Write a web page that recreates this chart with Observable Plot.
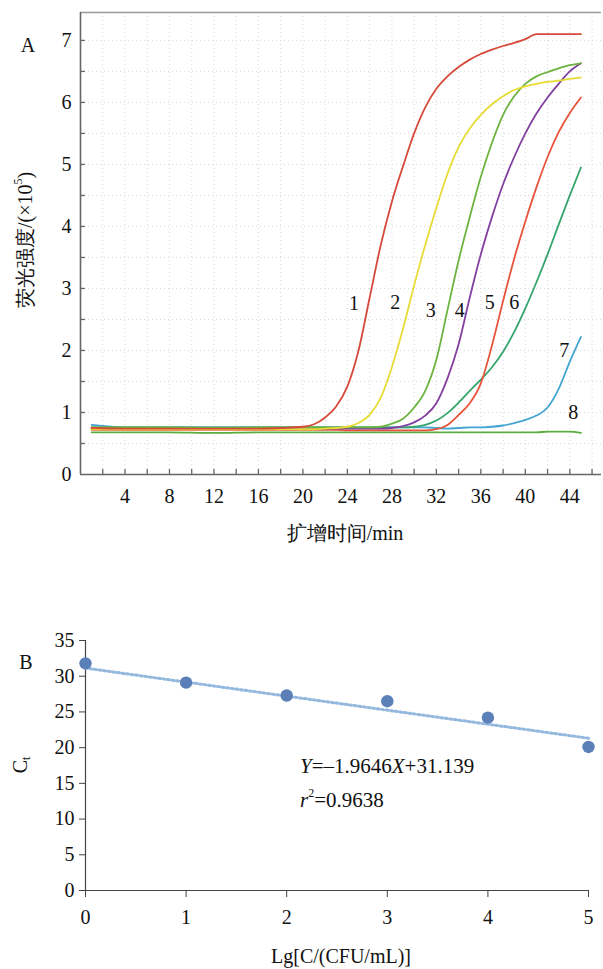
<!DOCTYPE html>
<html><head><meta charset="utf-8">
<script src="https://cdn.jsdelivr.net/npm/d3@7"></script>
<script src="https://cdn.jsdelivr.net/npm/@observablehq/plot@0.6"></script>
<style>
body{margin:0;background:#fff;}
#wrap{position:relative;width:603px;height:969px;font-family:"Liberation Serif","Times New Roman",serif;}
#a{position:absolute;left:0;top:0;}
#b{position:absolute;left:0;top:600px;}
svg text{font-family:"Liberation Serif","Times New Roman",serif;}
</style></head><body><div id="wrap"><div id="a"></div><div id="b"></div></div>
<script>
// ---- Panel A data ----
const cycles = [1,4,8,12,16,18,20,21,22,23,24,25,26,27,28,29,30,31,32,33,34,35,36,37,38,39,40,41,42,43,44,45];
const s1 = [0.75,0.74,0.74,0.74,0.74,0.75,0.77,0.81,0.92,1.1,1.42,2.0,2.85,3.7,4.4,4.97,5.5,5.92,6.22,6.42,6.57,6.69,6.78,6.85,6.91,6.96,7.02,7.1,7.1,7.1,7.1,7.1];
const s2 = [0.73,0.73,0.73,0.73,0.73,0.73,0.73,0.73,0.74,0.75,0.77,0.83,0.96,1.24,1.73,2.35,3.05,3.7,4.3,4.85,5.28,5.58,5.8,5.97,6.1,6.2,6.26,6.3,6.33,6.35,6.38,6.4];
const s3 = [0.76,0.76,0.76,0.75,0.76,0.76,0.76,0.76,0.76,0.76,0.76,0.76,0.76,0.77,0.82,0.9,1.08,1.35,1.85,2.65,3.45,4.15,4.8,5.35,5.8,6.1,6.3,6.42,6.49,6.55,6.6,6.63];
const s4 = [0.74,0.74,0.74,0.74,0.74,0.74,0.74,0.74,0.74,0.74,0.74,0.74,0.74,0.74,0.75,0.78,0.84,0.95,1.15,1.55,2.1,2.85,3.55,4.15,4.68,5.12,5.5,5.82,6.08,6.3,6.5,6.63];
const s5 = [0.72,0.72,0.72,0.72,0.72,0.72,0.72,0.72,0.72,0.72,0.71,0.71,0.71,0.71,0.71,0.71,0.71,0.71,0.73,0.8,0.96,1.15,1.47,2.08,2.8,3.48,4.08,4.63,5.12,5.52,5.83,6.08];
const s6 = [0.76,0.76,0.76,0.76,0.76,0.76,0.76,0.76,0.76,0.76,0.76,0.76,0.76,0.76,0.76,0.76,0.77,0.8,0.87,0.99,1.16,1.35,1.53,1.73,1.98,2.3,2.68,3.1,3.55,4.03,4.5,4.95];
const s7 = [0.8,0.76,0.76,0.76,0.76,0.76,0.76,0.76,0.76,0.76,0.76,0.76,0.76,0.76,0.76,0.76,0.76,0.76,0.75,0.74,0.75,0.76,0.76,0.77,0.79,0.83,0.88,0.95,1.08,1.38,1.82,2.22];
const s8 = [0.68,0.68,0.68,0.67,0.68,0.68,0.68,0.68,0.68,0.68,0.68,0.68,0.68,0.68,0.68,0.68,0.68,0.68,0.68,0.68,0.68,0.68,0.68,0.68,0.68,0.68,0.68,0.68,0.69,0.69,0.69,0.67];
const seriesNames = ["1","2","3","4","5","6","7","8"];
const seriesColors = ["#d64a3b","#e6dc35","#6cb43f","#8240a0","#e8533b","#35a56c","#45a5d2","#5aad3c"];
const labelT = [24.6, 28.3, 31.5, 34.1, 36.8, 39.0, 43.5, 44.3];
const labelV = [2.76, 2.77, 2.65, 2.65, 2.77, 2.77, 2.0, 1.0];
const xTickLabelsA = [4,8,12,16,20,24,28,32,36,40,44];
const yTickLabelsA = [0,1,2,3,4,5,6,7];

// ---- Panel B data ----
const lgConc = [0,1,2,3,4,5];
const ctValues = [31.8, 29.1, 27.3, 26.5, 24.2, 20.1];
const slope = -1.9646, intercept = 31.139, r2 = 0.9638;
const yTickLabelsB = [0,5,10,15,20,25,30,35];

const FONT = '"Liberation Serif","Times New Roman",serif';
const all = [s1,s2,s3,s4,s5,s6,s7,s8];
const rows = [];
for (let i = all.length - 1; i >= 0; i--) all[i].forEach((v,j) => rows.push({t: cycles[j], v, s: seriesNames[i]}));
const labels = seriesNames.map((n,i) => ({n, t: labelT[i], v: labelV[i]}));

const A = Plot.plot({
  width: 603, height: 550, marginLeft: 80, marginRight: 2, marginTop: 12, marginBottom: 76,
  style: {fontFamily: FONT, fontSize: "20px", color: "#111", background: "white", overflow: "visible"},
  x: {domain: [0, 46.85]},
  y: {domain: [0, 7.45]},
  color: {domain: seriesNames, range: seriesColors},
  marks: [
    Plot.ruleX(d3.range(2, 47, 2), {stroke: "#d8d8d8", strokeDasharray: "1,3"}),
    Plot.ruleY(d3.range(0.5, 7.5, 0.5), {stroke: "#d8d8d8", strokeDasharray: "1,3"}),
    Plot.ruleY([7.45], {stroke: "#9a9a9a", strokeWidth: 1.5}),
    Plot.ruleX(d3.range(2, 47, 2), {y1: 0, y2: 0.08, stroke: "#666", strokeWidth: 1.3}),
    Plot.ruleY(d3.range(0.5, 7.5, 0.5), {x1: 0, x2: 0.45, stroke: "#666", strokeWidth: 1.3}),
    Plot.ruleX([0], {stroke: "#666", strokeWidth: 1.6}),
    Plot.ruleY([0], {stroke: "#666", strokeWidth: 1.6}),
    Plot.line(rows, {x: "t", y: "v", z: "s", stroke: "s", curve: "monotone-x", strokeWidth: 1.8}),
    Plot.text(labels, {x: "t", y: "v", text: "n", fontSize: 20, fill: "#111", fontFamily: FONT}),
    Plot.axisX({ticks: xTickLabelsA, tickSize: 0, tickPadding: 14, fontSize: 20, fontFamily: FONT, label: null, tickFormat: d => String(d)}),
    Plot.axisY({ticks: yTickLabelsA, tickSize: 0, tickPadding: 9, fontSize: 20, fontFamily: FONT, label: null, tickFormat: d => String(d)})
  ]
});
document.getElementById("a").appendChild(A);
const sa = d3.select(A);
sa.append("text").attr("x", 28).attr("y", 45).attr("text-anchor", "middle").attr("dominant-baseline", "central")
  .attr("font-size", 20).attr("fill", "#111").text("A");
const yl = sa.append("text").attr("transform", "translate(25,240) rotate(-90)").attr("text-anchor", "middle")
  .attr("dominant-baseline", "central").attr("font-size", 20).attr("fill", "#111");
yl.append("tspan").text("荧光强度/(×10");
yl.append("tspan").attr("font-size", 12).attr("dy", -7).text("5");
yl.append("tspan").attr("dy", 7).text(")");
sa.append("text").attr("x", 345).attr("y", 533).attr("text-anchor", "middle").attr("dominant-baseline", "central")
  .attr("font-size", 20).attr("fill", "#111").text("扩增时间/min");

// ---- Panel B ----
const fit = [0, 5].map(x => ({x, y: slope * x + intercept}));
const pts = lgConc.map((x,i) => ({x, y: ctValues[i]}));
const B = Plot.plot({
  width: 603, height: 369, marginLeft: 85, marginRight: 15, marginTop: 40, marginBottom: 79,
  style: {fontFamily: FONT, fontSize: "20px", color: "#111", background: "white", overflow: "visible"},
  x: {domain: [0, 5]},
  y: {domain: [0, 35]},
  marks: [
    Plot.ruleX([0], {stroke: "#444", strokeWidth: 1.2}),
    Plot.ruleY([0], {stroke: "#444", strokeWidth: 1.2}),
    Plot.axisX({ticks: lgConc, tickSize: 7, tickPadding: 12, fontSize: 20, fontFamily: FONT, stroke: "#444", label: null, tickFormat: d => String(d)}),
    Plot.axisY({ticks: yTickLabelsB, tickSize: 6, tickPadding: 5, fontSize: 20, fontFamily: FONT, stroke: "#444", label: null, tickFormat: d => String(d)}),
    Plot.line(fit, {x: "x", y: "y", stroke: "#94b8de", strokeWidth: 3, strokeDasharray: "2,2.6"}),
    Plot.dot(pts, {x: "x", y: "y", r: 6.2, fill: "#5b80b8", stroke: "none"})
  ]
});
document.getElementById("b").appendChild(B);
const sb = d3.select(B);
sb.append("text").attr("x", 26).attr("y", 62).attr("text-anchor", "middle").attr("dominant-baseline", "central")
  .attr("font-size", 20).attr("fill", "#111").text("B");
const cl = sb.append("text").attr("transform", "translate(20,165) rotate(-90)").attr("text-anchor", "middle")
  .attr("dominant-baseline", "central").attr("font-size", 20).attr("fill", "#111");
cl.append("tspan").text("C");
cl.append("tspan").attr("font-size", 12).attr("dy", 6).text("t");
sb.append("text").attr("x", 341).attr("y", 356).attr("text-anchor", "middle").attr("dominant-baseline", "central")
  .attr("font-size", 20).attr("fill", "#111").text("Lg[C/(CFU/mL)]");
const eq = sb.append("text").attr("x", 300).attr("y", 166).attr("text-anchor", "start").attr("dominant-baseline", "central")
  .attr("font-size", 21).attr("fill", "#111");
eq.append("tspan").attr("font-style", "italic").text("Y");
eq.append("tspan").text("=–" + Math.abs(slope).toFixed(4));
eq.append("tspan").attr("font-style", "italic").text("X");
eq.append("tspan").text("+" + intercept.toFixed(3));
const rt = sb.append("text").attr("x", 300).attr("y", 200).attr("text-anchor", "start").attr("dominant-baseline", "central")
  .attr("font-size", 21).attr("fill", "#111");
rt.append("tspan").attr("font-style", "italic").text("r");
rt.append("tspan").attr("font-size", 12).attr("dy", -7).text("2");
rt.append("tspan").attr("dy", 7).text("=" + r2.toFixed(4));
</script></body></html>
